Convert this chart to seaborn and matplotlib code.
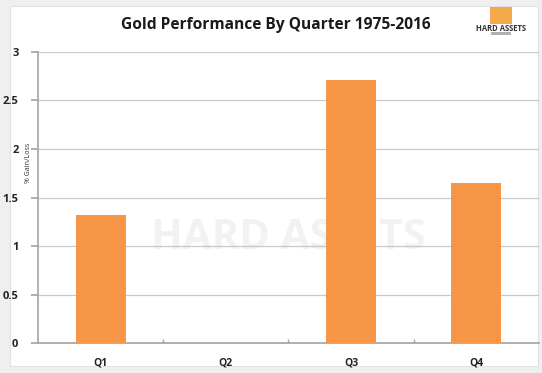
import numpy as np
import pandas as pd
import seaborn as sns
import matplotlib.pyplot as plt
from matplotlib.patches import Rectangle

# data
quarters = ['Q1', 'Q2', 'Q3', 'Q4']
gain = [1.32, 0.0, 2.71, 1.65]
yticks = [0, 0.5, 1, 1.5, 2, 2.5, 3]
ytick_labels = ['0', '0.5', '1', '1.5', '2', '2.5', '3']

df = pd.DataFrame({'quarter': quarters, 'gain': gain})

sns.set_theme(style='white')
plt.rcParams['font.family'] = ['Open Sans', 'DejaVu Sans']

fig = plt.figure(figsize=(5.42, 3.73), dpi=100)
fig.patch.set_facecolor('#efefef')
fig.add_artist(Rectangle((0.018, 0.02), 0.975, 0.965, transform=fig.transFigure,
                         facecolor='white', edgecolor='#e2e2e2', lw=0.8, zorder=-5))

ax = fig.add_axes([0.070, 0.080, 0.924, 0.781])
ax.set_facecolor('none')

# faint watermark
ax.text(0.5, 0.36, 'HARD ASSETS', transform=ax.transAxes, ha='center', va='center',
        fontsize=30, fontweight='bold', color='#f2f2f2', zorder=0)

sns.barplot(data=df, x='quarter', y='gain', color='#f79646', saturation=1,
            width=0.4, ax=ax, zorder=3, linewidth=0)

ax.set_ylim(0, 3)
ax.set_xlim(-0.5, 3.5)
ax.set_yticks(yticks)
ax.set_yticklabels(ytick_labels)
ax.grid(axis='y', color='#c8c8c8', lw=0.9, zorder=0)
ax.set_axisbelow(True)

for s in ['top', 'right']:
    ax.spines[s].set_visible(False)
ax.spines['left'].set_color('#a6a6a6')
ax.spines['bottom'].set_color('#a6a6a6')

ax.tick_params(axis='y', left=True, length=5, color='#a6a6a6', labelsize=8,
               labelcolor='#222222', pad=9)
ax.tick_params(axis='x', bottom=False, labelsize=7.5, labelcolor='#222222', pad=4)
ax.set_xticks([0.5, 1.5, 2.5], minor=True)
ax.tick_params(axis='x', which='minor', bottom=True, length=3, direction='in',
               color='#a6a6a6')
for lab in ax.get_yticklabels() + ax.get_xticklabels():
    lab.set_fontweight('bold')

ax.set_xlabel('')
ax.set_ylabel('% Gain/Loss', fontsize=5, color='#333333', labelpad=-2)
ax.yaxis.set_label_coords(-0.012, 0.62)

fig.text(0.508, 0.932, 'Gold Performance By Quarter 1975-2016', ha='center', va='center',
         fontsize=11.2, fontweight='bold', color='#1a1a1a')

# logo
fig.add_artist(Rectangle((0.904, 0.936), 0.041, 0.046, transform=fig.transFigure,
                         facecolor='#f5a94b', edgecolor='none'))
fig.add_artist(Rectangle((0.905, 0.906), 0.038, 0.008, transform=fig.transFigure,
                         facecolor='#b0b0b0', edgecolor='none'))
fig.text(0.924, 0.924, 'HARD ASSETS', ha='center', va='center', fontsize=5.5,
         fontweight='bold', color='#333333')

fig.savefig('out.png', dpi=100)
